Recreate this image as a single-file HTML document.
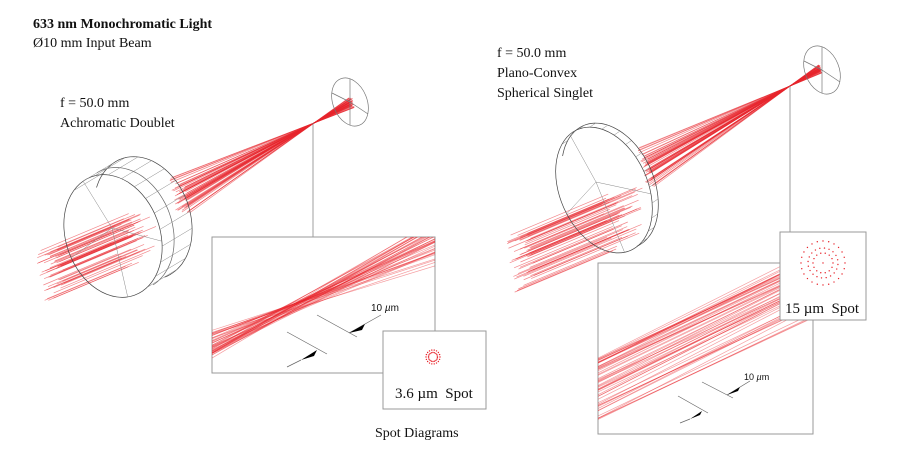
<!DOCTYPE html>
<html><head><meta charset="utf-8"><style>
html,body{margin:0;padding:0;background:#fff;width:900px;height:450px;overflow:hidden}
svg{display:block}
text{font-family:"Liberation Serif",serif;font-size:14px;fill:#111}
.s{font-family:"Liberation Sans",sans-serif;font-size:10px}
</style></head><body>
<svg id="g" width="900" height="450" viewBox="0 0 900 450" xmlns="http://www.w3.org/2000/svg">
<defs>
 <clipPath id="c1"><rect x="212" y="237" width="223" height="136"/></clipPath>
 <clipPath id="c2"><rect x="598" y="263" width="215" height="171"/></clipPath>
</defs>
<g id="rays" stroke="#e8262d" stroke-width="0.7" stroke-opacity="0.55" fill="none"></g>
<g id="lens" fill="none" stroke="#444" stroke-width="0.7"></g>
<g fill="none" stroke="#777" stroke-width="0.7">
 <ellipse cx="350" cy="102" rx="17" ry="25" transform="rotate(-22 350 102)"/>
 <path d="M350 102 L350 79 M350 102 L332 93 M350 102 L368 114 M350 102 L350 125"/>
 <ellipse cx="822" cy="70" rx="17" ry="25" transform="rotate(-22 822 70)"/>
 <path d="M822 70 L822 47 M822 70 L804 61 M822 70 L840 82 M822 70 L822 93"/>
</g>
<g fill="none" stroke="#888" stroke-width="0.8">
 <path d="M313 123 V237 M790 86 V232"/>
</g>
<g fill="none" stroke="#999" stroke-width="1">
 <rect x="212" y="237" width="223" height="136"/>
 <rect x="598" y="263" width="215" height="171"/>
</g>
<g id="r1" clip-path="url(#c1)" stroke="#e8262d" stroke-width="0.7" stroke-opacity="0.45"></g>
<g id="r2" clip-path="url(#c2)" stroke="#e8262d" stroke-width="0.7" stroke-opacity="0.45"></g>
<g fill="#fff" stroke="#999" stroke-width="1">
 <rect x="383" y="331" width="103" height="78"/>
 <rect x="780" y="232" width="86" height="88"/>
</g>
<g id="spots" fill="#e8262d"></g>
<g stroke="#666" stroke-width="0.7" fill="none">
 <path d="M317 315 L357 337 M287 332 L327 354 M349 333 L381 315 M287 367 L301 360"/>
 <path d="M702 382 L733 398 M678 396 L708 413 M727 395 L750 381 M680 423 L690 419"/>
</g>
<g fill="#000">
 <path d="M349 333 L365 324 L362 330Z"/><path d="M301 360 L317 350 L314 356Z"/>
 <path d="M727 395 L740 387 L738 391Z"/><path d="M690 419 L702 411 L700 415Z"/>
</g>
<text x="33" y="28" style="font-weight:bold">633 nm Monochromatic Light</text>
<text x="33" y="47">Ø10 mm Input Beam</text>
<text x="60" y="107">f = 50.0 mm</text>
<text x="60" y="127">Achromatic Doublet</text>
<text x="497" y="57">f = 50.0 mm</text>
<text x="497" y="77">Plano-Convex</text>
<text x="497" y="97">Spherical Singlet</text>
<text x="395" y="398" style="font-size:15px">3.6 µm&#160; Spot</text>
<text x="785" y="313" style="font-size:15px">15 µm&#160; Spot</text>
<text x="375" y="437">Spot Diagrams</text>
<text class="s" x="371" y="311">10 <tspan font-style="italic">µ</tspan>m</text>
<text class="s" x="744" y="380" style="font-size:9px">10 <tspan font-style="italic">µ</tspan>m</text>
</svg>
<script>
var NS="http://www.w3.org/2000/svg";
function el(p,n,a){var e=document.createElementNS(NS,n);for(var k in a)e.setAttribute(k,a[k]);document.getElementById(p).appendChild(e);return e;}
function L(p,a,b,c,d){el(p,"line",{x1:a,y1:b,x2:c,y2:d});}
function rnd(s){var x=Math.sin(s*12.9898)*43758.5453;return x-Math.floor(x);}
function ell(cx,cy,rx,ry,rot,th){var r=rot*Math.PI/180,x=rx*Math.cos(th),y=ry*Math.sin(th);return [cx+x*Math.cos(r)-y*Math.sin(r),cy+x*Math.sin(r)+y*Math.cos(r)];}
function lens(cx,cy,rx,ry,rot,dx,dy,mid,nr,spk){
 el("lens","ellipse",{cx:cx,cy:cy,rx:rx,ry:ry,transform:"rotate("+rot+" "+cx+" "+cy+")"});
 var bx=cx+dx,by=cy+dy;
 var pts=[];for(var k=0;k<=60;k++){var th=-Math.PI*0.75+k/60*Math.PI*1.25;var p=ell(bx,by,rx,ry,rot,th);pts.push(p[0].toFixed(1)+" "+p[1].toFixed(1));}
 el("lens","path",{d:"M"+pts.join(" L")});
 if(mid){pts=[];for(var k=0;k<=60;k++){var th=-Math.PI*0.55+k/60*Math.PI*1.0;var p=ell(cx+dx*0.4,cy+dy*0.4,rx,ry,rot,th);pts.push(p[0].toFixed(1)+" "+p[1].toFixed(1));}
 el("lens","path",{d:"M"+pts.join(" L"),stroke:"#666"});}
 for(var k=0;k<nr;k++){var th=-Math.PI*0.65+k/(nr-1)*Math.PI*1.05;var a=ell(cx,cy,rx,ry,rot,th),b=ell(bx,by,rx,ry,rot,th);
  el("lens","line",{x1:a[0],y1:a[1],x2:b[0],y2:b[1],stroke:"#888","stroke-width":0.5});}
 var c=[cx+spk[0],cy+spk[1]];
 [-Math.PI/2-0.2,Math.PI-0.1,0.35,Math.PI/2+0.15].forEach(function(th){var p=ell(cx,cy,rx,ry,rot,th);el("lens","line",{x1:c[0],y1:c[1],x2:p[0],y2:p[1],stroke:"#888","stroke-width":0.5});});
}
lens(113,236,47,63,-20,30,-18,true,13,[-1,-8]);
lens(604,190,44,66,-24,6,-4,false,14,[-8,-8]);
var i,n=60;
for(i=0;i<n;i++){
 var p=rnd(i+1)-0.5,q=rnd(i+101)-0.5;
 var sx=40+(q+0.5)*22+p*8, sy=268+p*48-q*14+rnd(i+7)*6;
 var Lh=70+rnd(i+5)*25;
 L("rays",sx,sy,sx+Lh,sy-Lh*0.42);
 var ex=180+q*16+p*6, ey=196+p*34+q*6;
 var fx=314,fy=123,k=0.28;
 L("rays",ex,ey,fx+(fx-ex)*k,fy+(fy-ey)*k);
 sx=510+(q+0.5)*22+p*8; sy=255+p*55-q*14+rnd(i+9)*6;
 Lh=85+rnd(i+3)*30;
 L("rays",sx,sy,sx+Lh,sy-Lh*0.42);
 ex=646+q*10+p*8; ey=168+p*36+q*8;
 fx=790;fy=86;k=0.21;
 L("rays",ex,ey,fx+(fx-ex)*k,fy+(fy-ey)*k);
}
for(i=0;i<45;i++){var a=rnd(i+31)-0.5,b=rnd(i+51)-0.5;
 var s=-0.45+a*0.3, y0=312+b*12;
 L("r1",212,y0+(212-285)*s,440,y0+(440-285)*s);
}
for(i=0;i<55;i++){var a=rnd(i+61)-0.5,j=(rnd(i+77)-0.5)*12;
 var y0=390+a*66, y1=292+a*62+j;
 L("r2",598,y0,830,y1-(y0-y1)/202*30);
}
function C(x,y){el("spots","circle",{cx:x,cy:y,r:0.7});}
for(i=0;i<18;i++){var th=i/18*6.283;C(433+7*Math.cos(th),357+7*Math.sin(th));C(433+4.5*Math.cos(th+0.17),357+4.5*Math.sin(th+0.17));}
for(i=0;i<24;i++){var th=i/24*6.283;C(823+22*Math.cos(th),263+22*Math.sin(th));}
for(i=0;i<20;i++){var th=i/20*6.283+0.1;C(823+15*Math.cos(th),263+15*Math.sin(th));}
for(i=0;i<14;i++){var th=i/14*6.283;C(823+10*Math.cos(th),263+10*Math.sin(th));}
C(823,263);
</script>
</body></html>
